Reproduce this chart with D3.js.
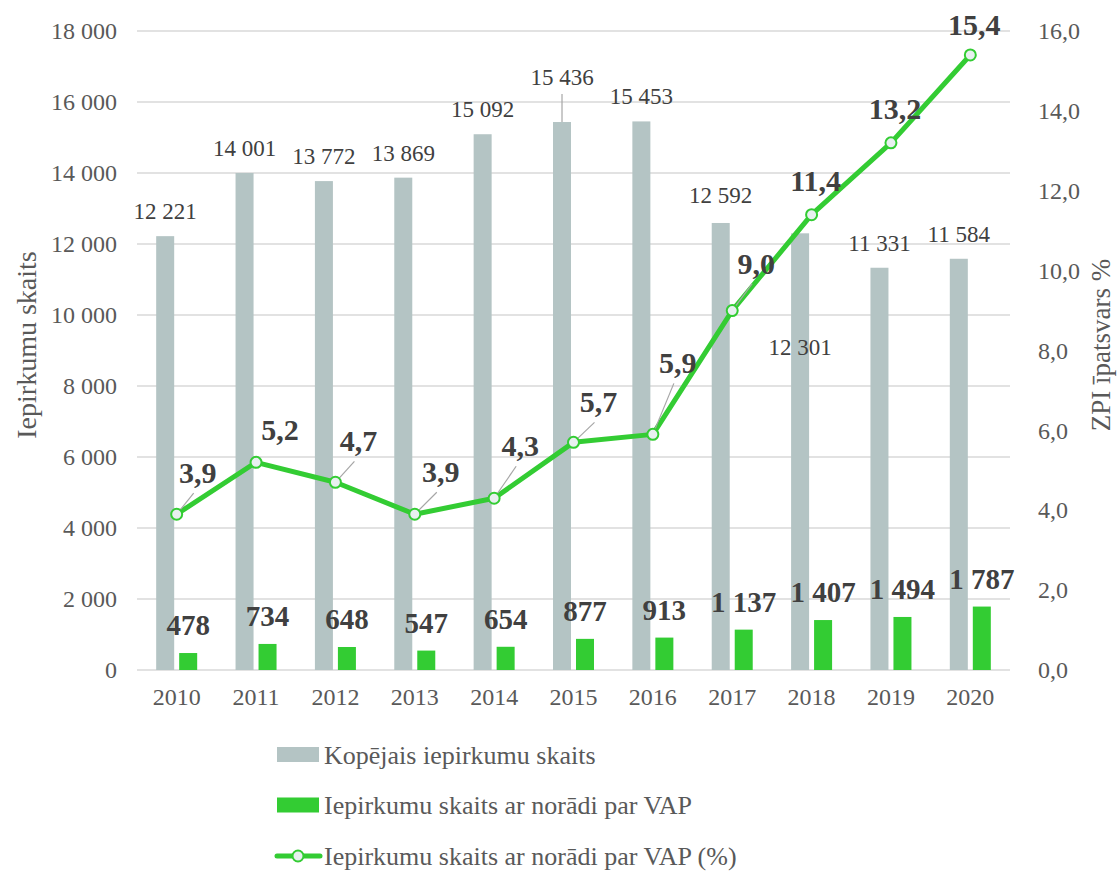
<!DOCTYPE html>
<html>
<head>
<meta charset="utf-8">
<script src="https://cdn.jsdelivr.net/npm/d3@7"></script>
<style>
  html, body { margin: 0; padding: 0; background: #fff; }
  svg { display: block; font-family: "Liberation Serif", "Times New Roman", serif; }
</style>
</head>
<body>
<svg id="chart" width="1117" height="872"></svg>
<script>
// ---- data ----
const years = ["2010","2011","2012","2013","2014","2015","2016","2017","2018","2019","2020"];
const totalCounts = [12221, 14001, 13772, 13869, 15092, 15436, 15453, 12592, 12301, 11331, 11584];
const vapCounts = [478, 734, 648, 547, 654, 877, 913, 1137, 1407, 1494, 1787];
const vapPercent = [3.9, 5.2, 4.7, 3.9, 4.3, 5.7, 5.9, 9.0, 11.4, 13.2, 15.4];
const leftTicks = [0, 2000, 4000, 6000, 8000, 10000, 12000, 14000, 16000, 18000];
const rightTicks = [0, 2, 4, 6, 8, 10, 12, 14, 16];
const seriesNames = ["Kopējais iepirkumu skaits", "Iepirkumu skaits ar norādi par VAP", "Iepirkumu skaits ar norādi par VAP (%)"];
const leftTitle = "Iepirkumu skaits";
const rightTitle = "ZPI īpatsvars %";

// ---- label layout (nudges, not data) ----
const pctLabelNudge = [[21,-31,1],[24,-22,0],[23,-31,1],[26,-32,1],[26,-42,1],[25,-30,1],[25,-61,1],[24,-37,1],[4,-24,0],[4,-24,0],[4,-20,0]];
const totalLabelNudge = [-17,-17,-17,-17,-17,-37,-17,-20,122,-17,-17];
const totalLeader = [0,0,0,0,0,1,0,0,0,0,0];

const C = {
  grey: "#B4C4C4", green: "#33CC33", grid: "#D9D9D9", axisText: "#595959",
  label: "#404040", leader: "#A6A6A6", marker: "#E8F0F0"
};

const locale = d3.formatLocale({decimal: ",", thousands: "\u00a0", grouping: [3], currency: ["", ""]});
const fmtInt = locale.format(",d");
const fmtPct = locale.format(".1f");

const svg = d3.select("#chart");
const plot = {left: 137, right: 1010, top: 31, bottom: 670};

const x0 = d3.scaleBand().domain(years).range([plot.left, plot.right]).paddingInner(0).paddingOuter(0);
const x1 = d3.scaleBand().domain(["total", "vap"]).range([-20.5, 20.5]).paddingInner(0.217);
const yL = d3.scaleLinear().domain([0, 18000]).range([plot.bottom, plot.top]);
const yR = d3.scaleLinear().domain([0, 16]).range([plot.bottom, plot.top]);
const cx = y => x0(y) + x0.bandwidth() / 2;

// grid
svg.append("g").selectAll("line").data(leftTicks).join("line")
  .attr("x1", plot.left).attr("x2", plot.right)
  .attr("y1", d => yL(d)).attr("y2", d => yL(d))
  .attr("stroke", C.grid).attr("stroke-width", 1.5);

// axes
const axL = svg.append("g").attr("transform", `translate(${plot.left},0)`)
  .call(d3.axisLeft(yL).tickValues(leftTicks).tickFormat(fmtInt).tickSize(0).tickPadding(20));
const axR = svg.append("g").attr("transform", `translate(${plot.right},0)`)
  .call(d3.axisRight(yR).tickValues(rightTicks).tickFormat(fmtPct).tickSize(0).tickPadding(28));
const axB = svg.append("g").attr("transform", `translate(0,${plot.bottom})`)
  .call(d3.axisBottom(x0).tickSize(0).tickPadding(18));
[axL, axR, axB].forEach(a => {
  a.select(".domain").remove();
  a.selectAll("text").attr("fill", C.axisText).style("font-size", "24px")
    .style("font-family", "'Liberation Serif', 'Times New Roman', serif");
});

// axis titles
svg.append("text").attr("transform", `translate(36,345) rotate(-90)`)
  .attr("text-anchor", "middle").attr("fill", C.axisText).style("font-size", "28px").text(leftTitle);
svg.append("text").attr("transform", `translate(1110,345) rotate(-90)`)
  .attr("text-anchor", "middle").attr("fill", C.axisText).style("font-size", "27px").text(rightTitle);

// bars
const gBars = svg.append("g");
gBars.selectAll("rect.total").data(years).join("rect").attr("class", "total")
  .attr("x", (d) => cx(d) + x1("total")).attr("width", x1.bandwidth())
  .attr("y", (d, i) => yL(totalCounts[i])).attr("height", (d, i) => yL(0) - yL(totalCounts[i]))
  .attr("fill", C.grey);
gBars.selectAll("rect.vap").data(years).join("rect").attr("class", "vap")
  .attr("x", (d) => cx(d) + x1("vap")).attr("width", x1.bandwidth())
  .attr("y", (d, i) => yL(vapCounts[i])).attr("height", (d, i) => yL(0) - yL(vapCounts[i]))
  .attr("fill", C.green);

// total labels
const gTL = svg.append("g");
years.forEach((yr, i) => {
  const bx = cx(yr) + x1("total") + x1.bandwidth() / 2;
  const by = yL(totalCounts[i]);
  const ty = by + totalLabelNudge[i];
  gTL.append("text").attr("x", bx).attr("y", ty).attr("text-anchor", "middle")
    .attr("fill", C.label).style("font-size", "23px").text(fmtInt(totalCounts[i]));
  if (totalLeader[i]) {
    gTL.append("line").attr("x1", bx).attr("x2", bx).attr("y1", ty + 9).attr("y2", by)
      .attr("stroke", C.leader).attr("stroke-width", 1.2);
  }
});

// vap labels
svg.append("g").selectAll("text").data(years).join("text")
  .attr("x", d => cx(d) + x1("vap") + x1.bandwidth() / 2)
  .attr("y", (d, i) => yL(vapCounts[i]) - 18)
  .attr("text-anchor", "middle").attr("fill", C.label)
  .style("font-size", "29px").style("font-weight", "bold")
  .text((d, i) => fmtInt(vapCounts[i]));

// line
const line = d3.line().x((d, i) => cx(years[i])).y(d => yR(d));
svg.append("path").datum(vapPercent).attr("d", line)
  .attr("fill", "none").attr("stroke", C.green).attr("stroke-width", 5).attr("stroke-linejoin", "round");

// leaders for pct labels
const gPL = svg.append("g");
vapPercent.forEach((v, i) => {
  const px = cx(years[i]), py = yR(v);
  const [dx, dy, lead] = pctLabelNudge[i];
  if (lead) {
    gPL.append("line").attr("x1", px).attr("y1", py).attr("x2", px + dx - 4).attr("y2", py + dy + 10)
      .attr("stroke", C.leader).attr("stroke-width", 1.2);
  }
});

// markers
svg.append("g").selectAll("circle").data(vapPercent).join("circle")
  .attr("cx", (d, i) => cx(years[i])).attr("cy", d => yR(d)).attr("r", 5.5)
  .attr("fill", C.marker).attr("stroke", C.green).attr("stroke-width", 2);

// pct labels
vapPercent.forEach((v, i) => {
  const px = cx(years[i]), py = yR(v);
  const [dx, dy] = pctLabelNudge[i];
  gPL.append("text").attr("x", px + dx).attr("y", py + dy).attr("text-anchor", "middle")
    .attr("fill", C.label).style("font-size", "30px").style("font-weight", "bold").text(fmtPct(v));
});

// legend
const lg = svg.append("g");
const legY = [754.5, 805, 856];
lg.append("rect").attr("x", 277).attr("y", legY[0] - 7.5).attr("width", 42).attr("height", 15).attr("fill", C.grey);
lg.append("rect").attr("x", 277).attr("y", legY[1] - 7.5).attr("width", 42).attr("height", 15).attr("fill", C.green);
lg.append("line").attr("x1", 277).attr("x2", 320).attr("y1", legY[2]).attr("y2", legY[2])
  .attr("stroke", C.green).attr("stroke-width", 5).attr("stroke-linecap", "round");
lg.append("circle").attr("cx", 298).attr("cy", legY[2]).attr("r", 5.5)
  .attr("fill", C.marker).attr("stroke", C.green).attr("stroke-width", 2);
seriesNames.forEach((n, i) => {
  lg.append("text").attr("x", 324).attr("y", legY[i] + 9).attr("fill", C.axisText)
    .style("font-size", "26px").text(n);
});
</script>
</body>
</html>
